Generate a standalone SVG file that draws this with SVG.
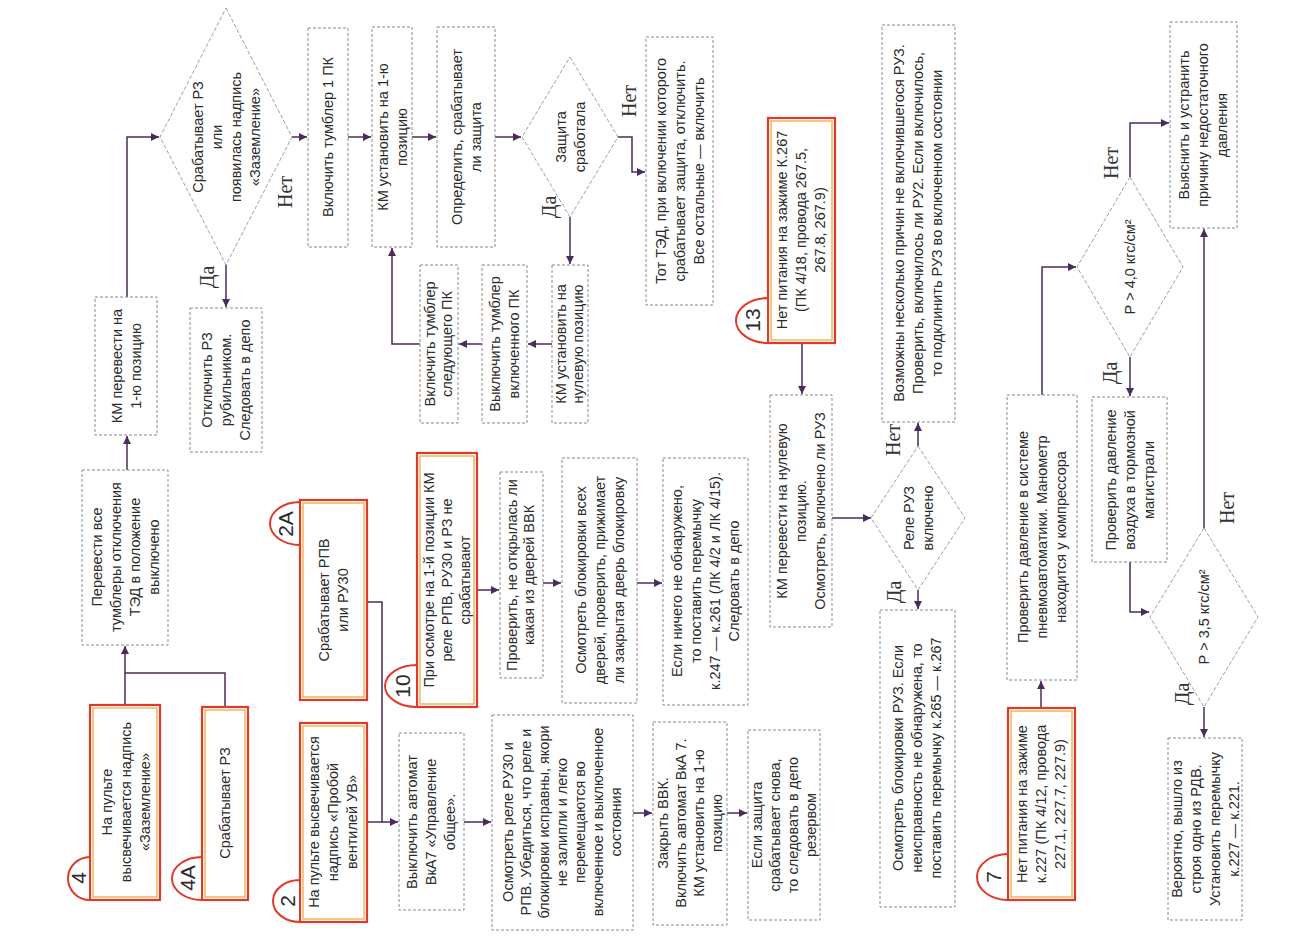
<svg xmlns="http://www.w3.org/2000/svg" width="1302" height="945" viewBox="0 0 1302 945">
<defs>
<marker id="ah" viewBox="0 0 10 10" refX="10" refY="5" markerWidth="9" markerHeight="8" markerUnits="userSpaceOnUse" orient="auto"><path d="M0,0 L10,5 L0,10 z" fill="#4a2b5c"/></marker>
<style>
.bx{fill:#fff;stroke:#8a8a8a;stroke-width:1;stroke-dasharray:3 2}
.dm{fill:#fff;stroke:#a0a0a0;stroke-width:1;stroke-dasharray:4 2}
.rd{fill:#fff;stroke:#e0392a;stroke-width:2.2}
.ri{fill:none;stroke:#f4b04a;stroke-width:1.4}
.bd{fill:#fff;stroke:#e0392a;stroke-width:2}
.t{font-family:"Liberation Sans",Arial,sans-serif;font-size:14.5px;fill:#2b2b2b;text-anchor:middle}
.n{font-family:"Liberation Sans",Arial,sans-serif;font-size:21px;fill:#2b2b2b;text-anchor:middle}
.l{font-family:"Liberation Serif","Times New Roman",serif;font-size:20px;fill:#333;text-anchor:middle}
.c{fill:none;stroke:#4a2b5c;stroke-width:1.5}
.ca{fill:none;stroke:#4a2b5c;stroke-width:1.5;marker-end:url(#ah)}
</style>
</defs>
<rect width="1302" height="945" fill="#fff"/>

<g id="connectors">
<path class="ca" d="M125,705 V646"/>
<path class="c" d="M225,707 V673 H125"/>
<path class="ca" d="M127,470 V436"/>
<path class="ca" d="M127,297 V137 H159"/>
<path class="ca" d="M226,265 V307"/>
<path class="ca" d="M292,137 H307"/>
<path class="ca" d="M348,137 H371"/>
<path class="ca" d="M412,137 H436"/>
<path class="ca" d="M495,137 H521"/>
<path class="ca" d="M570,217 V264"/>
<path class="ca" d="M618,137 H632 V172 H645"/>
<path class="ca" d="M552,344 H528"/>
<path class="ca" d="M482,344 H459"/>
<path class="ca" d="M420,344 H392 V248"/>
<path class="c" d="M367,602 H382 V822"/>
<path class="ca" d="M367,822 H398"/>
<path class="ca" d="M464,822 H491"/>
<path class="ca" d="M633,813 H652"/>
<path class="ca" d="M727,813 H747"/>
<path class="ca" d="M477,590 H499"/>
<path class="ca" d="M543,583 H561"/>
<path class="ca" d="M637,583 H662"/>
<path class="ca" d="M802,343 V394"/>
<path class="ca" d="M832,518 H871"/>
<path class="ca" d="M918,446 V423"/>
<path class="ca" d="M918,590 V609"/>
<path class="ca" d="M1041,708 V681"/>
<path class="ca" d="M1042,395 V267 H1076"/>
<path class="ca" d="M1130,177 V123 H1169"/>
<path class="ca" d="M1130,357 V396"/>
<path class="ca" d="M1130,562 V612 H1149"/>
<path class="ca" d="M1204,528 V229"/>
<path class="ca" d="M1204,707 V737"/>
</g>

<g id="labels">
<text class="l" transform="translate(207,277) rotate(-90)" y="7">Да</text>
<text class="l" transform="translate(285,192) rotate(-90)" y="7">Нет</text>
<text class="l" transform="translate(549,207) rotate(-90)" y="7">Да</text>
<text class="l" transform="translate(629,101) rotate(-90)" y="7">Нет</text>
<text class="l" transform="translate(893,440) rotate(-90)" y="7">Нет</text>
<text class="l" transform="translate(894,592) rotate(-90)" y="7">Да</text>
<text class="l" transform="translate(1111,163) rotate(-90)" y="7">Нет</text>
<text class="l" transform="translate(1110,373) rotate(-90)" y="7">Да</text>
<text class="l" transform="translate(1227,508) rotate(-90)" y="7">Нет</text>
<text class="l" transform="translate(1182,694) rotate(-90)" y="7">Да</text>
</g>

<g id="n4">
<rect class="rd" x="90" y="705" width="70" height="195"/><rect class="ri" x="93" y="708" width="64" height="189"/>
<path class="bd" d="M90,857 A22,21.5 0 0 0 90,900 Z"/>
<text class="n" transform="translate(79,878) rotate(-90)" y="7">4</text>
<text class="t" transform="translate(126,802) rotate(-90)"><tspan x="0" y="-14">На пульте</tspan><tspan x="0" y="5">высвечивается надпись</tspan><tspan x="0" y="24">«Заземление»</tspan></text>
</g>
<g id="n4a">
<rect class="rd" x="202" y="707" width="46" height="193"/><rect class="ri" x="205" y="710" width="40" height="187"/>
<path class="bd" d="M202,857 A30,21.5 0 0 0 202,900 Z"/>
<text class="n" transform="translate(188,878) rotate(-90)" y="7">4A</text>
<text class="t" transform="translate(225,803) rotate(-90)"><tspan x="0" y="5">Срабатывает РЗ</tspan></text>
</g>
<g id="b-perevesti">
<rect class="bx" x="82" y="470" width="86" height="175"/>
<text class="t" transform="translate(125,557) rotate(-90)"><tspan x="0" y="-23.5">Перевести все</tspan><tspan x="0" y="-4.5">тумблеры отключения</tspan><tspan x="0" y="14.5">ТЭД в положение</tspan><tspan x="0" y="33.5">выключено</tspan></text>
</g>
<g id="b-km1">
<rect class="bx" x="95" y="297" width="62" height="138"/>
<text class="t" transform="translate(126,366) rotate(-90)"><tspan x="0" y="-4.5">КМ перевести на</tspan><tspan x="0" y="14.5">1-ю  позицию</tspan></text>
</g>
<g id="d1">
<polygon class="dm" points="226,8 292,137 226,265 160,137"/>
<text class="t" transform="translate(226,137) rotate(-90)"><tspan x="0" y="-23.5">Срабатывает РЗ</tspan><tspan x="0" y="-4.5">или</tspan><tspan x="0" y="14.5">появилась надпись</tspan><tspan x="0" y="33.5">«Заземление»</tspan></text>
</g>
<g id="b-otkl">
<rect class="bx" x="190" y="308" width="72" height="144"/>
<text class="t" transform="translate(226,380) rotate(-90)"><tspan x="0" y="-14">Отключить РЗ</tspan><tspan x="0" y="5">рубильником.</tspan><tspan x="0" y="24">Следовать в депо</tspan></text>
</g>
<g id="b-vkl1">
<rect class="bx" x="308" y="28" width="40" height="219"/>
<text class="t" transform="translate(328,137) rotate(-90)"><tspan x="0" y="5">Включить тумблер 1 ПК</tspan></text>
</g>
<g id="b-km1pos">
<rect class="bx" x="372" y="27" width="40" height="220"/>
<text class="t" transform="translate(392,137) rotate(-90)"><tspan x="0" y="-4.5">КМ установить на 1-ю</tspan><tspan x="0" y="14.5">позицию</tspan></text>
</g>
<g id="b-opr">
<rect class="bx" x="437" y="27" width="58" height="220"/>
<text class="t" transform="translate(466,137) rotate(-90)"><tspan x="0" y="-4.5">Определить, срабатывает</tspan><tspan x="0" y="14.5">ли защита</tspan></text>
</g>
<g id="d2">
<polygon class="dm" points="570,57 618,137 570,217 522,137"/>
<text class="t" transform="translate(570,137) rotate(-90)"><tspan x="0" y="-4.5">Защита</tspan><tspan x="0" y="14.5">сработала</tspan></text>
</g>
<g id="b-tot">
<rect class="bx" x="646" y="37" width="67" height="268"/>
<text class="t" transform="translate(680,171) rotate(-90)"><tspan x="0" y="-14">Тот ТЭД, при включении которого</tspan><tspan x="0" y="5">срабатывает защита, отключить.</tspan><tspan x="0" y="24">Все остальные — включить</tspan></text>
</g>
<g id="b-km0">
<rect class="bx" x="552" y="265" width="36" height="158"/>
<text class="t" transform="translate(570,344) rotate(-90)"><tspan x="0" y="-4">КМ установить на</tspan><tspan x="0" y="13">нулевую позицию</tspan></text>
</g>
<g id="b-vykl">
<rect class="bx" x="482" y="265" width="45" height="158"/>
<text class="t" transform="translate(504,344) rotate(-90)"><tspan x="0" y="-4.5">Выключить тумблер</tspan><tspan x="0" y="14.5">включенного ПК</tspan></text>
</g>
<g id="b-vklsl">
<rect class="bx" x="420" y="265" width="38" height="158"/>
<text class="t" transform="translate(439,344) rotate(-90)"><tspan x="0" y="-4">Включить тумблер</tspan><tspan x="0" y="13">следующего ПК</tspan></text>
</g>
<g id="n2a">
<rect class="rd" x="300" y="500" width="67" height="200"/><rect class="ri" x="303" y="503" width="61" height="194"/>
<path class="bd" d="M300,502 A30,21.5 0 0 0 300,545 Z"/>
<text class="n" transform="translate(286,524) rotate(-90)" y="7">2A</text>
<text class="t" transform="translate(333,600) rotate(-90)"><tspan x="0" y="-4.5">Срабатывает РПВ</tspan><tspan x="0" y="14.5">или РУ30</tspan></text>
</g>
<g id="n2">
<rect class="rd" x="300" y="723" width="67" height="199"/><rect class="ri" x="303" y="726" width="61" height="193"/>
<path class="bd" d="M300,880 A27,21 0 0 0 300,922 Z"/>
<text class="n" transform="translate(288,901) rotate(-90)" y="7">2</text>
<text class="t" transform="translate(333,822) rotate(-90)"><tspan x="0" y="-14">На пульте высвечивается</tspan><tspan x="0" y="5">надпись «Пробой</tspan><tspan x="0" y="24">вентилей УВ»</tspan></text>
</g>
<g id="b-vka7">
<rect class="bx" x="399" y="733" width="65" height="177"/>
<text class="t" transform="translate(431,822) rotate(-90)"><tspan x="0" y="-14">Выключить автомат</tspan><tspan x="0" y="5">ВкА7 «Управление</tspan><tspan x="0" y="24">общее».</tspan></text>
</g>
<g id="n10">
<rect class="rd" x="417" y="453" width="60" height="254"/><rect class="ri" x="420" y="456" width="54" height="248"/>
<path class="bd" d="M417,665 A32,21 0 0 0 417,707 Z"/>
<text class="n" transform="translate(403,686) rotate(-90)" y="7">10</text>
<text class="t" transform="translate(447,580) rotate(-90)"><tspan x="0" y="-13">При осмотре на 1-й позиции КМ</tspan><tspan x="0" y="5">реле РПВ, РУ30 и РЗ не</tspan><tspan x="0" y="23">срабатывают</tspan></text>
</g>
<g id="b-dveri">
<rect class="bx" x="500" y="472" width="43" height="206"/>
<text class="t" transform="translate(521,575) rotate(-90)"><tspan x="0" y="-4">Проверить, не открылась ли</tspan><tspan x="0" y="13">какая из дверей ВВК</tspan></text>
</g>
<g id="b-blok">
<rect class="bx" x="562" y="458" width="75" height="245"/>
<text class="t" transform="translate(600,580) rotate(-90)"><tspan x="0" y="-14">Осмотреть блокировки всех</tspan><tspan x="0" y="5">дверей, проверить, прижимает</tspan><tspan x="0" y="24">ли закрытая дверь блокировку</tspan></text>
</g>
<g id="b-esli">
<rect class="bx" x="663" y="458" width="85" height="247"/>
<text class="t" transform="translate(705,581) rotate(-90)"><tspan x="0" y="-23.5">Если ничего не обнаружено,</tspan><tspan x="0" y="-4.5">то поставить перемычку</tspan><tspan x="0" y="14.5">к.247 — к.261 (ЛК 4/2 и ЛК 4/15).</tspan><tspan x="0" y="33.5">Следовать в депо</tspan></text>
</g>
<g id="b-rele">
<rect class="bx" x="492" y="715" width="141" height="215"/>
<text class="t" transform="translate(562,822) rotate(-90)"><tspan x="0" y="-49">Осмотреть реле РУ30 и</tspan><tspan x="0" y="-31">РПВ. Убедиться, что реле и</tspan><tspan x="0" y="-13">блокировки исправны, якори</tspan><tspan x="0" y="5">не залипли и легко</tspan><tspan x="0" y="23">перемещаются  во</tspan><tspan x="0" y="41">включенное и выключенное</tspan><tspan x="0" y="59">состояния</tspan></text>
</g>
<g id="b-zakr">
<rect class="bx" x="653" y="722" width="74" height="203"/>
<text class="t" transform="translate(690,823) rotate(-90)"><tspan x="0" y="-22">Закрыть ВВК.</tspan><tspan x="0" y="-4">Включить автомат ВкА 7.</tspan><tspan x="0" y="14">КМ установить на 1-ю</tspan><tspan x="0" y="32">позицию</tspan></text>
</g>
<g id="b-eslizas">
<rect class="bx" x="748" y="730" width="72" height="190"/>
<text class="t" transform="translate(784,825) rotate(-90)"><tspan x="0" y="-22">Если защита</tspan><tspan x="0" y="-4">срабатывает снова,</tspan><tspan x="0" y="14">то следовать в депо</tspan><tspan x="0" y="32">резервом</tspan></text>
</g>
<g id="n13">
<rect class="rd" x="768" y="118" width="67" height="225"/><rect class="ri" x="771" y="121" width="61" height="219"/>
<path class="bd" d="M768,298 A32,22.5 0 0 0 768,343 Z"/>
<text class="n" transform="translate(753,320) rotate(-90)" y="7">13</text>
<text class="t" transform="translate(801,230) rotate(-90)"><tspan x="0" y="-14">Нет питания на зажиме К.267</tspan><tspan x="0" y="5">(ПК 4/18, провода 267.5,</tspan><tspan x="0" y="24">267.8, 267.9)</tspan></text>
</g>
<g id="b-km0ruz">
<rect class="bx" x="770" y="395" width="62" height="232"/>
<text class="t" transform="translate(801,511) rotate(-90)"><tspan x="0" y="-14">КМ перевести на нулевую</tspan><tspan x="0" y="5">позицию.</tspan><tspan x="0" y="24">Осмотреть, включено ли РУЗ</tspan></text>
</g>
<g id="d-ruz">
<polygon class="dm" points="918,446 965,518 918,590 871,518"/>
<text class="t" transform="translate(918,518) rotate(-90)"><tspan x="0" y="-4.5">Реле РУЗ</tspan><tspan x="0" y="14.5">включено</tspan></text>
</g>
<g id="b-vozm">
<rect class="bx" x="882" y="25" width="73" height="397"/>
<text class="t" transform="translate(918,223) rotate(-90)"><tspan x="0" y="-14">Возможны несколько причин не включившегося РУЗ.</tspan><tspan x="0" y="5">Проверить, включилось ли РУ2. Если включилось,</tspan><tspan x="0" y="24">то подклинить РУЗ во включенном состоянии</tspan></text>
</g>
<g id="b-blruz">
<rect class="bx" x="880" y="610" width="75" height="297"/>
<text class="t" transform="translate(917,758) rotate(-90)"><tspan x="0" y="-14">Осмотреть блокировки РУЗ. Если</tspan><tspan x="0" y="5">неисправность не обнаружена, то</tspan><tspan x="0" y="24">поставить перемычку к.265 — к.267</tspan></text>
</g>
<g id="n7">
<rect class="rd" x="1008" y="708" width="67" height="192"/><rect class="ri" x="1011" y="711" width="61" height="186"/>
<path class="bd" d="M1008,854 A31,23 0 0 0 1008,900 Z"/>
<text class="n" transform="translate(994,877) rotate(-90)" y="7">7</text>
<text class="t" transform="translate(1041,804) rotate(-90)"><tspan x="0" y="-14">Нет питания на зажиме</tspan><tspan x="0" y="5">к.227 (ПК 4/12, провода</tspan><tspan x="0" y="24">227.1, 227.7, 227.9)</tspan></text>
</g>
<g id="b-prsys">
<rect class="bx" x="1007" y="395" width="70" height="285"/>
<text class="t" transform="translate(1042,537) rotate(-90)"><tspan x="0" y="-14">Проверить давление в системе</tspan><tspan x="0" y="5">пневмоавтоматики. Манометр</tspan><tspan x="0" y="24">находится у компрессора</tspan></text>
</g>
<g id="d-p4">
<polygon class="dm" points="1130,177 1183,267 1130,357 1077,267"/>
<text class="t" transform="translate(1130,267) rotate(-90)"><tspan x="0" y="5">Р &gt; 4,0 кгс/см²</tspan></text>
</g>
<g id="b-vyyas">
<rect class="bx" x="1170" y="22" width="67" height="206"/>
<text class="t" transform="translate(1203,125) rotate(-90)"><tspan x="0" y="-14">Выяснить и устранить</tspan><tspan x="0" y="5">причину недостаточного</tspan><tspan x="0" y="24">давления</tspan></text>
</g>
<g id="b-prtm">
<rect class="bx" x="1092" y="397" width="75" height="165"/>
<text class="t" transform="translate(1130,480) rotate(-90)"><tspan x="0" y="-14">Проверить давление</tspan><tspan x="0" y="5">воздуха в тормозной</tspan><tspan x="0" y="24">магистрали</tspan></text>
</g>
<g id="d-p35">
<polygon class="dm" points="1204,528 1258,617 1204,707 1150,617"/>
<text class="t" transform="translate(1204,617) rotate(-90)"><tspan x="0" y="5">Р &gt; 3,5 кгс/см²</tspan></text>
</g>
<g id="b-ver">
<rect class="bx" x="1168" y="738" width="74" height="182"/>
<text class="t" transform="translate(1205,829) rotate(-90)"><tspan x="0" y="-23.5">Вероятно, вышло из</tspan><tspan x="0" y="-4.5">строя одно из РДВ.</tspan><tspan x="0" y="14.5">Установить перемычку</tspan><tspan x="0" y="33.5">к.227 — к.221.</tspan></text>
</g>
</svg>
